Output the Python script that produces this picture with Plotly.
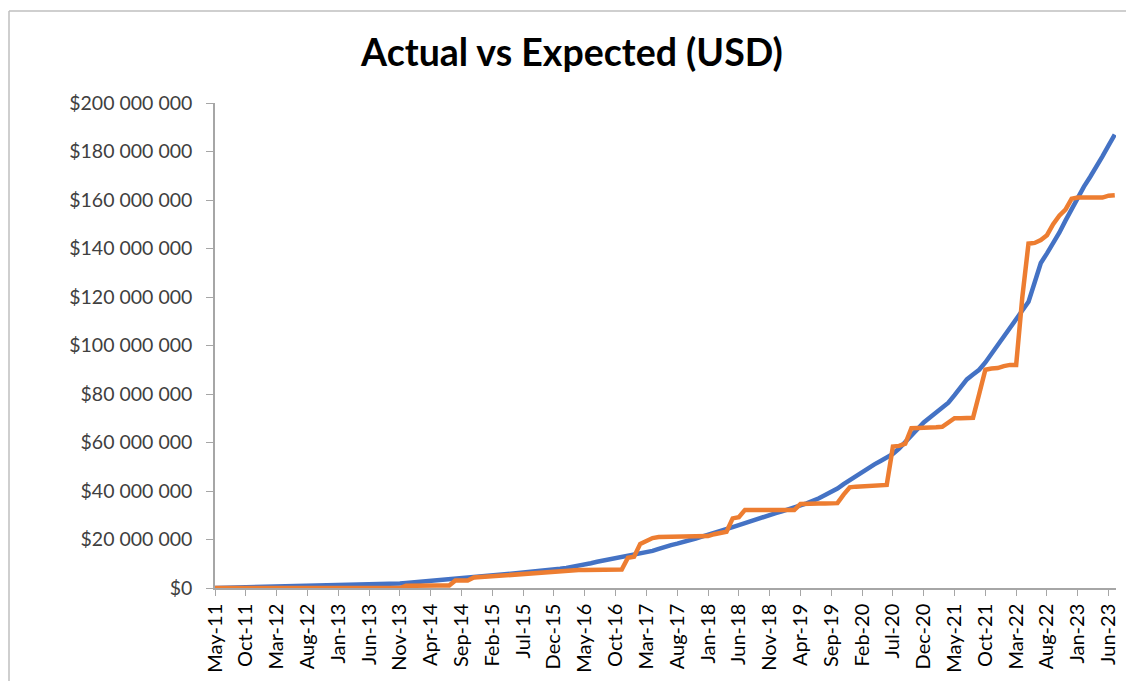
import pandas as pd
import plotly.graph_objects as go

# Monthly categories May-11 .. Jul-23
months = [d.strftime("%b-%y") for d in pd.date_range("2011-05-01", "2023-07-01", freq="MS")]

# Tick labels shown on the x axis (every 5 months)
tick_labels = ["May-11", "Oct-11", "Mar-12", "Aug-12", "Jan-13", "Jun-13", "Nov-13", "Apr-14",
               "Sep-14", "Feb-15", "Jul-15", "Dec-15", "May-16", "Oct-16", "Mar-17", "Aug-17",
               "Jan-18", "Jun-18", "Nov-18", "Apr-19", "Sep-19", "Feb-20", "Jul-20", "Dec-20",
               "May-21", "Oct-21", "Mar-22", "Aug-22", "Jan-23", "Jun-23"]

# Expected (blue), USD millions
expected_m = [
    0.0, 0.05, 0.1, 0.15, 0.2, 0.25, 0.3, 0.35, 0.4, 0.45,
    0.5, 0.55, 0.6, 0.65, 0.7, 0.75, 0.8, 0.85, 0.9, 0.95,
    1.0, 1.05, 1.1, 1.15, 1.2, 1.25, 1.3, 1.4, 1.55, 1.7,
    1.9, 2.1, 2.35, 2.6, 2.85, 3.1, 3.3, 3.6, 3.8, 4.0,
    4.2, 4.4, 4.7, 5.0, 5.2, 5.3, 5.5, 5.7, 5.9, 6.1,
    6.3, 6.5, 6.7, 7.0, 7.3, 7.6, 7.9, 8.3, 8.7, 9.2,
    9.7, 10.2, 10.8, 11.3, 11.8, 12.3, 12.7, 13.1, 13.5, 14.0,
    14.6, 15.3, 16.1, 17.0, 17.7, 18.3, 18.9, 19.6, 20.4, 21.2,
    21.9, 22.6, 23.3, 24.2, 25.1, 25.9, 26.8, 27.7, 28.6, 29.5,
    30.2, 30.9, 31.6, 32.3, 33.2, 34.1, 34.9, 35.8, 37.0, 38.3,
    39.5, 41.0, 42.8, 44.5, 46.2, 47.9, 49.5, 51.0, 52.4, 53.6,
    55.3, 57.5, 60.0, 62.7, 65.6, 68.3, 70.4, 72.8, 74.7, 76.4,
    79.5, 83.0, 86.0, 88.0, 90.0, 93.0, 96.5, 100.0, 104.0, 107.5,
    110.5, 114.0, 118.0, 126.0, 134.0, 138.0, 142.0, 146.5, 151.5, 156.5,
    161.5, 165.5, 169.5, 173.5, 178.0, 182.5, 187.0,
]

# Actual (orange), USD millions
actual_m = [
    0, 0, 0, 0, 0, 0, 0, 0, 0, 0,
    0, 0, 0, 0, 0, 0, 0, 0, 0, 0,
    0, 0, 0, 0, 0, 0, 0, 0, 0, 0,
    0, 0.9, 1.0, 1.0, 1.0, 1.0, 1.0, 1.0, 1.0, 3.1,
    3.1, 3.1, 4.3, 4.5, 4.5, 4.5, 5.1, 5.3, 5.4, 5.5,
    5.6, 5.8, 5.9, 6.4, 6.6, 6.7, 6.8, 6.9, 7.2, 7.4,
    7.4, 7.5, 7.5, 7.5, 7.6, 7.6, 7.6, 12.5, 12.9, 18.2,
    19.5, 20.6, 21.0, 21.0, 21.1, 21.2, 21.2, 21.3, 21.3, 21.3,
    21.4, 22.2, 22.8, 23.2, 28.7, 29.2, 32.2, 32.2, 32.2, 32.2,
    32.2, 32.2, 32.2, 32.2, 32.2, 34.6, 34.8, 34.8, 34.8, 34.8,
    34.9, 35.0, 38.5, 41.5, 41.8, 41.9, 42.0, 42.3, 42.5, 42.5,
    58.3, 58.6, 59.5, 65.9, 66.0, 66.0, 66.2, 66.3, 66.5, 68.5,
    70.0, 70.0, 70.0, 70.2, 80.0, 90.0, 90.5, 90.7, 91.5, 92.0,
    92.0, 120.0, 142.0, 142.3, 143.5, 145.5, 150.0, 153.5, 156.0, 160.5,
    161.0, 161.0, 161.0, 161.0, 161.0, 161.8, 162.0,
]

y_ticks = [0, 20_000_000, 40_000_000, 60_000_000, 80_000_000, 100_000_000,
           120_000_000, 140_000_000, 160_000_000, 180_000_000, 200_000_000]
y_ticktext = ["$" + f"{v:,}".replace(",", " ") for v in y_ticks]

expected = [v * 1e6 for v in expected_m]
actual = [v * 1e6 for v in actual_m]

FONT = "Lato, Calibri, 'Open Sans', sans-serif"

fig = go.Figure()
fig.add_trace(go.Scatter(x=months, y=expected, mode="lines", name="Expected",
                         line=dict(color="#4472C4", width=4.5)))
fig.add_trace(go.Scatter(x=months, y=actual, mode="lines", name="Actual",
                         line=dict(color="#ED7D31", width=4.5)))

# the page body has an 8px margin, so the figure sits at (8, 8)
W, H = 1126, 673
L, T, R, B = 207, 95, 18, 93
pw, ph = W - L - R, H - T - B

fig.update_layout(
    width=W, height=H,
    margin=dict(l=L, r=R, t=T, b=B, autoexpand=False),
    paper_bgcolor="white", plot_bgcolor="white",
    showlegend=False,
    font=dict(family=FONT, color="#404040"),
    title=dict(text="<b>Actual vs Expected (USD)</b>", x=(572 - 8) / W, xanchor="center",
               y=1 - (53 - 8) / H, yanchor="middle",
               font=dict(family=FONT, size=37.5, color="black")),
)
fig.update_xaxes(
    type="category", categoryorder="array", categoryarray=months,
    range=[0, len(months) - 1 + 0.2],
    tickmode="array", tickvals=tick_labels, ticktext=tick_labels,
    tickangle=-90, tickfont=dict(size=20, color="black"),
    showline=True, linecolor="#A6A6A6", linewidth=1.5,
    ticks="outside", ticklen=6, tickcolor="#A6A6A6",
    showgrid=False, zeroline=False, automargin=False,
)
fig.update_yaxes(
    range=[0, 200_000_000],
    tickmode="array", tickvals=y_ticks, ticktext=y_ticktext,
    tickfont=dict(size=19.5, color="#404040"),
    ticklabelstandoff=10,
    showline=True, linecolor="#A6A6A6", linewidth=1.5,
    ticks="outside", ticklen=7, tickcolor="#A6A6A6",
    showgrid=False, zeroline=False, automargin=False,
)
# Outer chart frame (top and left edges visible in the reference)
fx0 = (1 - L) / pw
fy0 = (ph + B - 1) / ph
fig.add_shape(type="line", xref="paper", yref="paper",
              x0=fx0, x1=(W - L) / pw, y0=fy0, y1=fy0,
              line=dict(color="#BFBFBF", width=1.5))
fig.add_shape(type="line", xref="paper", yref="paper",
              x0=fx0, x1=fx0, y0=fy0, y1=-B / ph,
              line=dict(color="#BFBFBF", width=1.5))

fig.write_html("out.html")
